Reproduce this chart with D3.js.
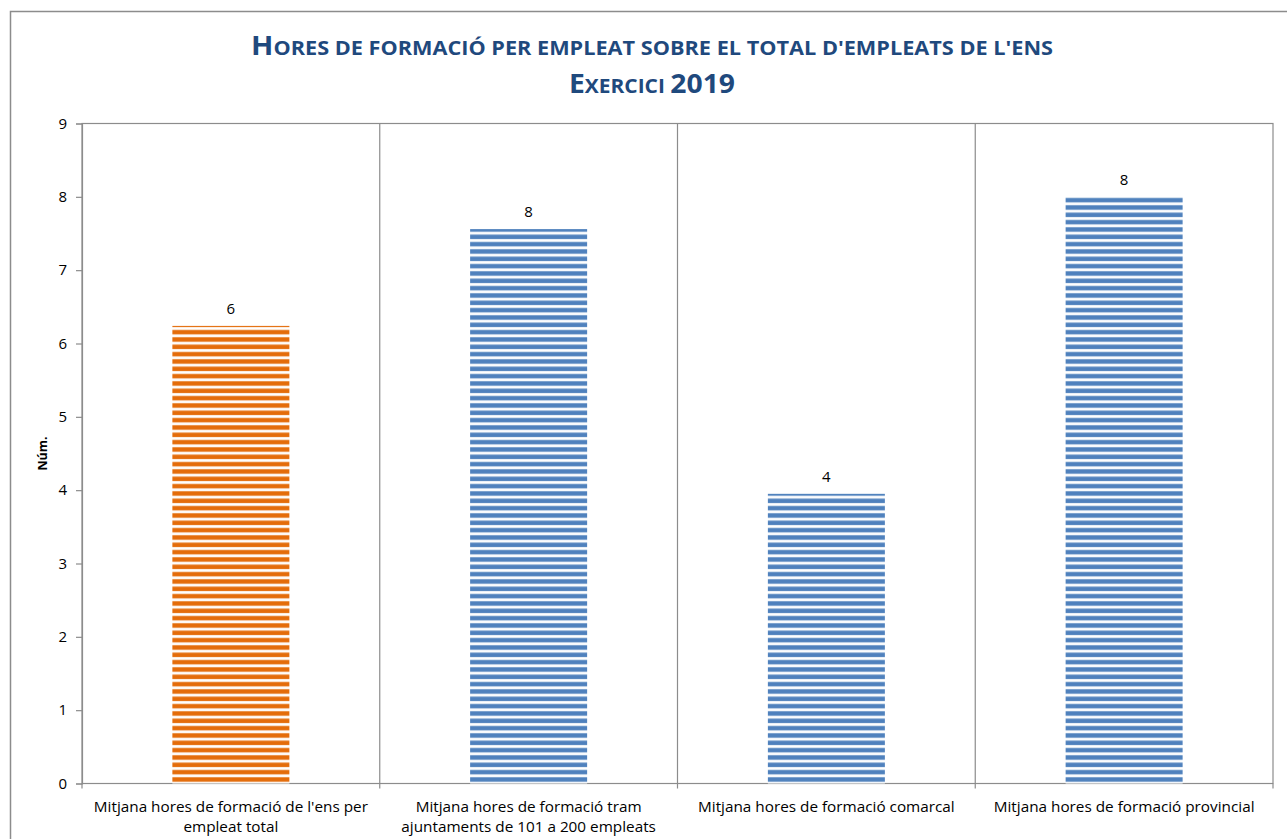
<!DOCTYPE html>
<html><head><meta charset="utf-8">
<script src="https://cdn.jsdelivr.net/npm/d3@7"></script>
<style>body{margin:0;background:#fff}svg{display:block}</style>
</head><body>
<script>
const categories = [
  ["Mitjana hores de formació de l'ens per", "empleat total"],
  ["Mitjana hores de formació tram", "ajuntaments de 101 a 200 empleats"],
  ["Mitjana hores de formació comarcal"],
  ["Mitjana hores de formació provincial"]
];
const values = [6.24, 7.56, 3.95, 8.0];
const labels = ["6", "8", "4", "8"];
const barColors = ["#E46C0A", "#4F81BD", "#4F81BD", "#4F81BD"];
const yTicks = [0,1,2,3,4,5,6,7,8,9];
const title1 = "Hores de formació per empleat sobre el total d'empleats de l'ens";
const title2 = "Exercici 2019";
const yLabel = "Núm.";

const W = 1287, H = 839;
const m = {left: 82, right: 1273, top: 123.5, bottom: 783.5};
const svg = d3.select("body").append("svg").attr("width", W).attr("height", H);
const font = "'Open Sans','Liberation Sans',sans-serif";

// outer chart border
svg.append("rect").attr("x", 10.5).attr("y", 11.5).attr("width", W).attr("height", H)
  .attr("fill", "none").attr("stroke", "#8c8c8c").attr("stroke-width", 1.5);

const x = d3.scaleBand().domain(d3.range(categories.length)).range([m.left, m.right]).paddingInner(0).paddingOuter(0);
const y = d3.scaleLinear().domain([0, 9]).range([m.bottom, m.top]);

// patterns
const defs = svg.append("defs");
const period = (y(0) - y(1)) / 10;
barColors.forEach((c, i) => {
  const p = defs.append("pattern").attr("id", "pat" + i).attr("patternUnits", "userSpaceOnUse")
    .attr("width", 10).attr("height", period).attr("y", y(0));
  p.append("rect").attr("width", 10).attr("height", period).attr("fill", "#fff");
  p.append("rect").attr("y", 0.8).attr("width", 10).attr("height", period * 0.68).attr("fill", c).attr("opacity", 0.45);
  p.append("rect").attr("y", 1.3).attr("width", 10).attr("height", period * 0.56).attr("fill", c);
});

// plot border
svg.append("rect").attr("x", m.left).attr("y", m.top).attr("width", m.right - m.left).attr("height", m.bottom - m.top)
  .attr("fill", "none").attr("stroke", "#8c8c8c").attr("stroke-width", 1.2);

// category separators
const bounds = d3.range(1, categories.length).map(i => x(i));
svg.selectAll(".sep").data(bounds).join("line")
  .attr("x1", d => d).attr("x2", d => d).attr("y1", m.top).attr("y2", m.bottom + 5)
  .attr("stroke", "#8c8c8c").attr("stroke-width", 1.2);
svg.selectAll(".bt").data([m.left, m.right]).join("line")
  .attr("x1", d => d).attr("x2", d => d).attr("y1", m.bottom).attr("y2", m.bottom + 5)
  .attr("stroke", "#8c8c8c").attr("stroke-width", 1.2);

// y axis
const yAxis = svg.append("g").attr("transform", `translate(${m.left},0)`)
  .call(d3.axisLeft(y).tickValues(yTicks).tickSize(6).tickPadding(9).tickFormat(d3.format("d")));
yAxis.select(".domain").attr("stroke", "#8c8c8c").attr("stroke-width", 1.2);
yAxis.selectAll(".tick line").attr("stroke", "#8c8c8c").attr("stroke-width", 1.2);
yAxis.selectAll(".tick text").attr("font-family", font).attr("font-size", 15).attr("fill", "#000");

// bars
const bw = 117;
svg.selectAll(".bar").data(values).join("rect")
  .attr("x", (d, i) => x(i) + x.bandwidth() / 2 - bw / 2)
  .attr("y", d => y(d)).attr("width", bw).attr("height", d => y(0) - y(d))
  .attr("fill", (d, i) => `url(#pat${i})`);

// data labels
svg.selectAll(".lbl").data(values).join("text")
  .attr("x", (d, i) => x(i) + x.bandwidth() / 2).attr("y", d => y(d) - 12)
  .attr("text-anchor", "middle").attr("font-family", font).attr("font-size", 15).attr("fill", "#000")
  .text((d, i) => labels[i]);

// x labels
categories.forEach((lines, i) => {
  lines.forEach((ln, j) => {
    svg.append("text").attr("text-anchor", "middle").attr("font-family", font)
      .attr("font-size", 15.3).attr("fill", "#000")
      .attr("x", x(i) + x.bandwidth() / 2).attr("y", 812 + j * 20).text(ln);
  });
});

// y label
svg.append("text").attr("transform", `translate(47,${(m.top + m.bottom) / 2}) rotate(-90)`)
  .attr("text-anchor", "middle").attr("font-family", font).attr("font-size", 12.5).attr("font-weight", "bold")
  .text(yLabel);

// title with manual small caps
const tcol = "#1F497D";
function smallCaps(txt, yy, len) {
  const t = svg.append("text").attr("x", 652).attr("y", yy).attr("text-anchor", "middle")
    .attr("font-family", font).attr("font-weight", "bold").attr("fill", tcol)
    .attr("textLength", len).attr("lengthAdjust", "spacingAndGlyphs");
  const parts = [];
  for (const ch of txt) {
    const big = ch !== ch.toLowerCase() || /[0-9]/.test(ch);
    if (parts.length && parts[parts.length - 1].big === big) parts[parts.length - 1].s += ch;
    else parts.push({big, s: ch});
  }
  parts.forEach(p => t.append("tspan").attr("font-size", p.big ? 27 : 20).text(p.s.toUpperCase()));
}
smallCaps(title1, 55, 802);
smallCaps(title2, 93, 166);
</script>
</body></html>
